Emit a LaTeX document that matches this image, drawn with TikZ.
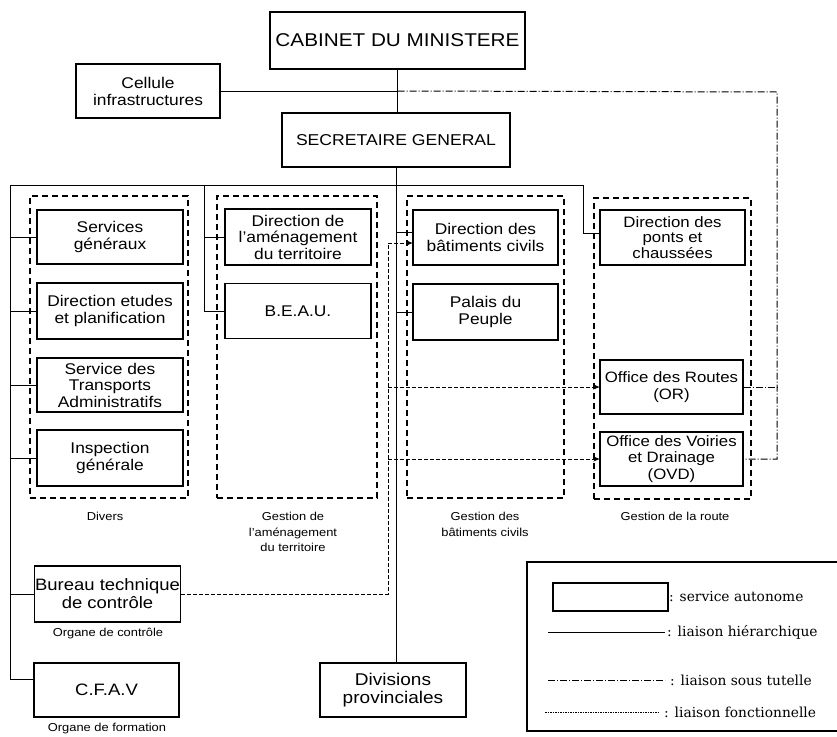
\documentclass[tikz,border=0pt]{standalone}
\usepackage{fontspec}
\setmainfont{Liberation Sans}[FakeStretch=1.12]
\newfontfamily\legfont{DejaVu Serif}
\usetikzlibrary{arrows.meta}
\tikzset{
  box/.style={draw, line width=1.1pt, inner sep=1pt, align=center, font=\fontsize{15.5}{16.5}\selectfont},
  grp/.style={draw, line width=1.3pt, dash pattern=on 6pt off 4pt},
  glabel/.style={align=center, inner sep=0pt, font=\fontsize{11.5}{15.5}\selectfont},
  hier/.style={line width=1pt},
  tut/.style={line width=1pt, dash pattern=on 7pt off 2pt on 1pt off 2pt},
  fonc/.style={line width=1pt, dash pattern=on 3.5pt off 2.5pt},
  arr/.style={-{Stealth[length=6pt,width=5pt]}},
  legtext/.style={anchor=west, inner sep=0pt, font=\legfont\fontsize{13.8}{15}\selectfont}
}
\begin{document}
\begin{tikzpicture}[x=1pt,y=-1pt]
\useasboundingbox (0,0) rectangle (837,736);
% main boxes
\node[box, minimum width=255, minimum height=57, font=\fontsize{18.5}{20}\selectfont] (cab) at (397.5,40.5) {CABINET DU MINISTERE};
\node[box, minimum width=144, minimum height=54, font=\fontsize{15.5}{17}\selectfont] (cel) at (148,91) {Cellule\\infrastructures};
\node[box, minimum width=228, minimum height=54, font=\fontsize{15.7}{17}\selectfont] (sec) at (396,140) {SECRETAIRE GENERAL};
% groups
\node[grp, minimum width=158, minimum height=302] (g1) at (109,347) {};
\node[grp, minimum width=160, minimum height=302] (g2) at (297,347) {};
\node[grp, minimum width=157, minimum height=302] (g3) at (485.5,347) {};
\node[grp, minimum width=157, minimum height=301] (g4) at (672.5,348.5) {};
% column 1
\node[box, minimum width=146, minimum height=54] (sg) at (110,237) {Services\\généraux};
\node[box, minimum width=146, minimum height=56] (det) at (110,311) {Direction etudes\\et planification};
\node[box, minimum width=146, minimum height=54] (sta) at (110,385) {Service des\\Transports\\Administratifs};
\node[box, minimum width=146, minimum height=56] (ig) at (110,458) {Inspection\\générale};
% column 2
\node[box, minimum width=146, minimum height=56] (dat) at (298,237) {Direction de\\l'aménagement\\du territoire};
\node[box, minimum width=146, minimum height=55] (beau) at (298,311) {B.E.A.U.};
% column 3
\node[box, minimum width=145, minimum height=55] (dbc) at (485.5,237.5) {Direction des\\bâtiments civils};
\node[box, minimum width=145, minimum height=56] (pp) at (485.5,312) {Palais du\\Peuple};
% column 4
\node[box, minimum width=145, minimum height=55, font=\fontsize{15}{15.5}\selectfont] (dpc) at (672.5,237.5) {Direction des\\ponts et\\chaussées};
\node[box, minimum width=143, minimum height=54, font=\fontsize{15}{16.5}\selectfont] (or) at (671.5,387) {Office des Routes\\(OR)};
\node[box, minimum width=143, minimum height=54, font=\fontsize{15}{16.5}\selectfont] (ovd) at (671.5,459) {Office des Voiries\\et Drainage\\(OVD)};
% bottom
\node[box, minimum width=145, minimum height=56, font=\fontsize{16.5}{18}\selectfont] (btc) at (107.5,594) {Bureau technique\\de contrôle};
\node[box, minimum width=145, minimum height=54, font=\fontsize{16.5}{18}\selectfont] (cfav) at (106.5,690) {C.F.A.V};
\node[box, minimum width=146, minimum height=54, font=\fontsize{17}{18}\selectfont] (div) at (393,690) {Divisions\\provinciales};
% group labels
\node[glabel] (l1) at (105,516) {Divers};
\node[glabel] (l2) at (293,532) {Gestion de\\l'aménagement\\du territoire};
\node[glabel] (l3) at (485,524.5) {Gestion des\\bâtiments civils};
\node[glabel] (l4) at (675,516) {Gestion de la route};
\node[glabel] (l5) at (108,633) {Organe de contrôle};
\node[glabel] (l6) at (107,729) {Organe de formation};
% hierarchy
\coordinate (busL) at (10,185);
\coordinate (busR) at (583,185);
\coordinate (c2) at (204,185);
\draw[hier] (cab.south) -- (cab.south |- sec.north);
\draw[hier] (sec.south) -- (sec.south |- div.north);
\coordinate (j1) at (cel.east -| cab.south);
\draw[hier] (cel.east) -- (j1);
\draw[hier] (busL) -- (busR);
\draw[hier] (busL) |- ([yshift=11pt]cfav.west);
\draw[hier] (busL |- sg.west) -- (sg.west);
\draw[hier] (busL |- det.west) -- (det.west);
\draw[hier] (busL |- sta.west) -- (sta.west);
\draw[hier] (busL |- ig.west) -- (ig.west);
\draw[hier] (busL |- btc.west) -- (btc.west);
\draw[hier] (c2) |- (beau.west);
\draw[hier] (c2 |- dat.west) -- (dat.west);
\draw[hier] ([yshift=5.5pt]dbc.west -| sec.south) -- ([yshift=5.5pt]dbc.west);
\draw[hier] (pp.west -| sec.south) -- (pp.west);
\draw[hier] (busR) |- ([yshift=4.5pt]dpc.west);
% tutelle
\coordinate (tut) at (777,92);
\draw[tut] (j1) -- (tut) |- (ovd.east);
\draw[tut] (or.east) -- (or.east -| tut);
% fonctionnelle
\coordinate (fv) at (388,594);
\draw[fonc, arr] (btc.east) -- (btc.east -| fv) |- ([yshift=-5.5pt]dbc.west);
\draw[fonc, arr] (or.west -| fv) -- (or.west);
\draw[fonc, arr] (ovd.west -| fv) -- (ovd.west);
% legend
\draw[line width=2pt] (840,562) -- (527,562) -- (527,731) -- (840,731);
\node[draw, line width=1.1pt, minimum width=115, minimum height=28] (lsa) at (610.5,597) {};
\node[legtext] (t1) at (669,597) {: service autonome};
\coordinate (h1) at (548,632);
\coordinate (h2) at (665,632);
\draw[hier] (h1) -- (h2);
\node[legtext] (t2) at (667,632) {: liaison hiérarchique};
\coordinate (s1) at (548,680);
\coordinate (s2) at (665,680);
\draw[tut] (s1) -- (s2);
\node[legtext] (t3) at (670,680) {: liaison sous tutelle};
\coordinate (f1) at (545,712);
\coordinate (f2) at (658,712);
\draw[line width=1pt, dash pattern=on 1.5pt off 1pt] (f1) -- (f2);
\node[legtext] (t4) at (664,712) {: liaison fonctionnelle};
\end{tikzpicture}
\end{document}
